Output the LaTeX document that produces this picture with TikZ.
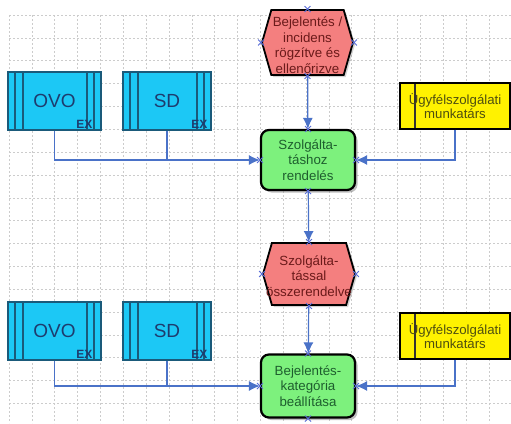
\documentclass[tikz,border=0pt]{standalone}
\usepackage{fontspec}
\setmainfont{Liberation Sans}
\usetikzlibrary{shapes.symbols,shapes.misc,shadows,arrows.meta}
\definecolor{cyanbox}{HTML}{1CC8F5}
\definecolor{cyanline}{HTML}{1A5A7A}
\definecolor{cyantext}{HTML}{1E3C6E}
\definecolor{hexred}{HTML}{F47F7F}
\definecolor{hextext}{HTML}{6B1A1A}
\definecolor{greenbox}{HTML}{7DF17D}
\definecolor{greentext}{HTML}{1E5E2E}
\definecolor{yellowtext}{HTML}{4E4E10}
\definecolor{flowblue}{HTML}{4A72C8}
\definecolor{mkblue}{HTML}{5A6ED8}
\definecolor{gridgray}{HTML}{CCCCCC}
\tikzset{
  gridline/.style={gridgray, line width=0.6pt, dash pattern=on 2pt off 2pt},
  hexa/.style={shape=signal, signal to=west and east, signal pointer angle=148,
    minimum width=91pt, minimum height=65pt, inner sep=0pt, draw=black,
    line width=1.8pt, fill=hexred, drop shadow={shadow xshift=2pt, shadow yshift=-2pt, opacity=0.35}},
  hextxt/.style={align=center, font=\fontsize{13.3}{15.5}\selectfont, text=hextext, inner sep=0pt},
  fnbox/.style={draw=black, line width=2.2pt, rounded corners=8pt, fill=greenbox,
    minimum width=94pt, minimum height=60pt, inner sep=0pt, align=center,
    font=\fontsize{13.3}{15.5}\selectfont, text=greentext,
    drop shadow={shadow xshift=2.5pt, shadow yshift=-2.5pt, opacity=0.5}},
  sysbox/.style={draw=cyanline, line width=1.2pt, fill=cyanbox, minimum height=58pt,
    inner sep=0pt, font=\fontsize{19}{22}\selectfont, text=cyantext,
    path picture={
      \draw[cyanline, line width=1.2pt]
        ([xshift=7pt]path picture bounding box.north west) -- ([xshift=7pt]path picture bounding box.south west)
        ([xshift=15pt]path picture bounding box.north west) -- ([xshift=15pt]path picture bounding box.south west)
        ([xshift=-7pt]path picture bounding box.north east) -- ([xshift=-7pt]path picture bounding box.south east)
        ([xshift=-14pt]path picture bounding box.north east) -- ([xshift=-14pt]path picture bounding box.south east);
    }},
  extxt/.style={anchor=south east, inner sep=0pt, font=\fontsize{12}{13}\selectfont\bfseries, text=cyantext},
  rolebox/.style={draw=black, line width=1.2pt, fill=yellow, minimum width=110pt, minimum height=46pt,
    inner sep=0pt, align=center, font=\fontsize{13.2}{14}\selectfont, text=yellowtext,
    path picture={
      \draw[black!80, line width=1.2pt]
        ([xshift=15pt]path picture bounding box.north west) -- ([xshift=15pt]path picture bounding box.south west);
    }},
  flow/.style={flowblue, line width=1.2pt, -{Latex[length=11pt,width=10pt]}},
  feed/.style={flowblue, line width=1.1pt},
  mk/.style={shape=cross out, draw=mkblue, line width=0.9pt, minimum size=5pt, inner sep=0pt}
}
\begin{document}
\begin{tikzpicture}[x=1pt,y=-1pt]
\useasboundingbox (0,0) rectangle (511,423);
\fill[white] (0,0) rectangle (511,423);
% grid
\foreach \i in {0,...,22} { \draw[gridline] ({9+22.85*\i},15) -- ({9+22.85*\i},423); }
\foreach \j in {0,...,18} { \draw[gridline] (9,{15+22.85*\j}) -- (511,{15+22.85*\j}); }

% main column
\node[hexa] (h1) at (307.5,42.5) {};
\node[hextxt] (h1t) at (307.5,45) {Bejelentés /\\incidens\\rögzítve és\\ellenőrizve};

\node[fnbox] (g1) at (308,160) {Szolgálta-\\táshoz\\rendelés};

\node[hexa, minimum width=92pt, minimum height=62pt] (h2) at (309,274) {};
\node[hextxt] (h2t) at (309,276) {Szolgálta-\\tással\\összerendelve};

\node[fnbox, minimum height=63pt] (g2) at (308,386) {Bejelentés-\\kategória\\beállítása};

% row 1 inputs
\node[sysbox, minimum width=93pt] (ovo1) at (54.5,101) {OVO};
\node[extxt] (ovo1ex) at ([xshift=-9pt,yshift=2pt]ovo1.south east) {EX};
\node[sysbox, minimum width=88pt] (sd1) at (167,101) {SD};
\node[extxt] (sd1ex) at ([xshift=-4pt,yshift=2pt]sd1.south east) {EX};
\node[rolebox] (y1) at (455,106) {Ügyfélszolgálati\\munkatárs};

% row 2 inputs
\node[sysbox, minimum width=93pt] (ovo2) at (54.5,331) {OVO};
\node[extxt] (ovo2ex) at ([xshift=-9pt,yshift=2pt]ovo2.south east) {EX};
\node[sysbox, minimum width=88pt] (sd2) at (167,331) {SD};
\node[extxt] (sd2ex) at ([xshift=-4pt,yshift=2pt]sd2.south east) {EX};
\node[rolebox] (y2) at (455,336) {Ügyfélszolgálati\\munkatárs};

% flows
\draw[flow] (h1) -- (g1);
\draw[flow] (g1) -- (h2);
\draw[flow] (h2) -- (g2);

\draw[feed] (sd1.south) -- (sd1.south |- g1.west);
\draw[flow] (ovo1.south) |- (g1.west);
\draw[flow] (y1.south) |- (g1.east);

\draw[feed] (sd2.south) -- (sd2.south |- g2.west);
\draw[flow] (ovo2.south) |- (g2.west);
\draw[flow] (y2.south) |- (g2.east);

% connection point markers
\foreach \n in {h1,g1,h2,g2}{
  \foreach \a in {north,south,east,west}{
    \node[mk] (\n-\a-mk) at (\n.\a) {};
  }
}
\end{tikzpicture}
\end{document}
